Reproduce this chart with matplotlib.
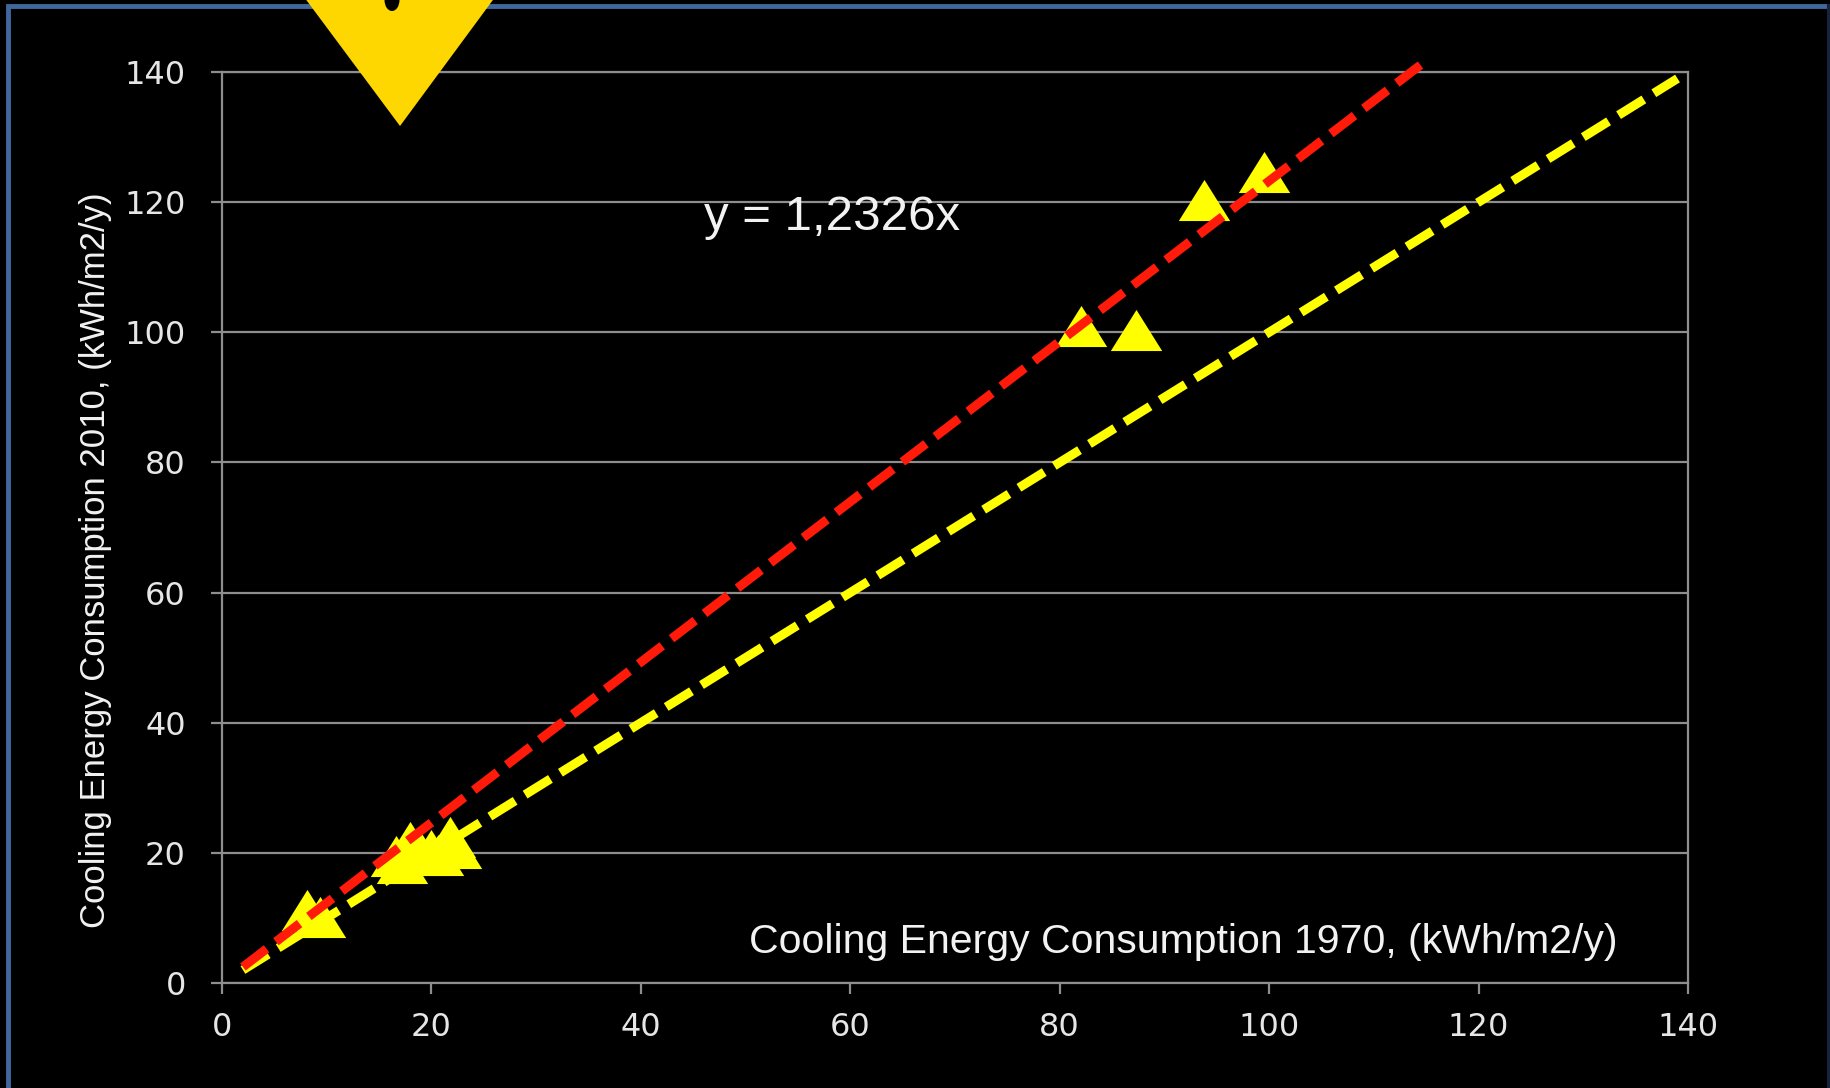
import matplotlib
matplotlib.use("Agg")
import matplotlib.pyplot as plt
from matplotlib.patches import Polygon, Ellipse
from matplotlib.lines import Line2D
import numpy as np

# ---- data ----
x_1970 = [8.1, 9.4, 16.6, 17.2, 18.0, 19.0, 20.0, 20.6, 21.8, 22.3, 82.0, 87.3, 93.8, 99.5]
y_2010 = [11.2, 10.2, 19.5, 18.4, 21.6, 20.0, 20.5, 19.6, 22.4, 20.8, 100.9, 100.4, 120.4, 124.6]
fit_slope = 1.2326
fit_x = [2.0, 114.5]
identity_x = [2.0, 139.0]
x_ticks = [0, 20, 40, 60, 80, 100, 120, 140]
y_ticks = [0, 20, 40, 60, 80, 100, 120, 140]
equation_label = "y = 1,2326x"
x_label = "Cooling Energy Consumption 1970, (kWh/m2/y)"
y_label = "Cooling Energy Consumption 2010, (kWh/m2/y)"

W, H = 1831, 1088
fig = plt.figure(figsize=(W / 100, H / 100), dpi=100, facecolor="black")

def fx(px):
    return px / W

def fy(py):
    return 1 - py / H

ax = fig.add_axes([fx(222), fy(983), fx(1688) - fx(222), fy(72) - fy(983)])
ax.set_facecolor("black")
ax.set_xlim(0, 140)
ax.set_ylim(0, 140)

grid_c = "#8e8e8e"
for s in ax.spines.values():
    s.set_color(grid_c)
    s.set_linewidth(1.6)
ax.set_xticks(x_ticks)
ax.set_yticks(y_ticks)
ax.yaxis.grid(True, color=grid_c, linewidth=1.6)
ax.xaxis.grid(False)
ax.set_axisbelow(True)
ax.tick_params(axis="both", colors=grid_c, length=8, width=1.6, direction="out",
               labelcolor="#e6e6e6", labelsize=23)
ax.tick_params(axis="x", pad=13)
ax.tick_params(axis="y", pad=18)
for lbl in ax.get_xticklabels() + ax.get_yticklabels():
    lbl.set_family("DejaVu Sans")

# markers
tri = [(-1, -0.8), (1, -0.8), (0, 0.8), (-1, -0.8)]
ax.plot(x_1970, y_2010, linestyle="none", marker=tri, markersize=37,
        markerfacecolor="#ffff00", markeredgecolor="#ffff00", markeredgewidth=0,
        zorder=3)

# identity line
ix = np.array(identity_x)
ax.plot(ix, ix, color="#ffff00", linewidth=6.5, linestyle=(0, (3.3, 1.3)),
        dash_capstyle="butt", zorder=4, clip_on=False)
# fit line
rx = np.array(fit_x)
ax.plot(rx, fit_slope * rx, color="#ff1a0a", linewidth=6.5, linestyle=(0, (3.3, 1.3)),
        dash_capstyle="butt", zorder=5, clip_on=False)

ax.text(46.0, 117.7, equation_label, color="#f2f2f2", fontsize=35.5,
        family=["Liberation Sans", "DejaVu Sans"], ha="left", va="center", zorder=6)
ax.text(133.3, 6.3, x_label, color="#f2f2f2", fontsize=29.5,
        family=["Liberation Sans", "DejaVu Sans"], ha="right", va="center", zorder=6)
fig.text(fx(96), fy(560), y_label, color="#f2f2f2", fontsize=25, rotation=90,
         family=["Liberation Sans", "DejaVu Sans"],
         ha="center", va="center")

# frame border (top and left bright blue, right edge dark)
fig.add_artist(Line2D([fx(8), fx(8), fx(1829)], [fy(1100), fy(5.5), fy(5.5)],
                      transform=fig.transFigure, color="#41689c", linewidth=3.5,
                      solid_joinstyle="miter", zorder=1))
fig.add_artist(Line2D([fx(1829), fx(1829)], [fy(5.5), fy(1100)],
                      transform=fig.transFigure, color="#16233a", linewidth=3.0,
                      zorder=1))

# warning sign (partially visible)
fig.add_artist(Polygon([(fx(284), fy(-30)), (fx(515), fy(-30)), (fx(400), fy(126))],
                       closed=True, transform=fig.transFigure,
                       facecolor="#ffd700", edgecolor="none", zorder=10))
fig.add_artist(Ellipse((fx(392), fy(0)), fx(15), fy(0) - fy(22),
                       transform=fig.transFigure, facecolor="black",
                       edgecolor="none", zorder=11))

fig.savefig("out.png", dpi=100, facecolor="black")
